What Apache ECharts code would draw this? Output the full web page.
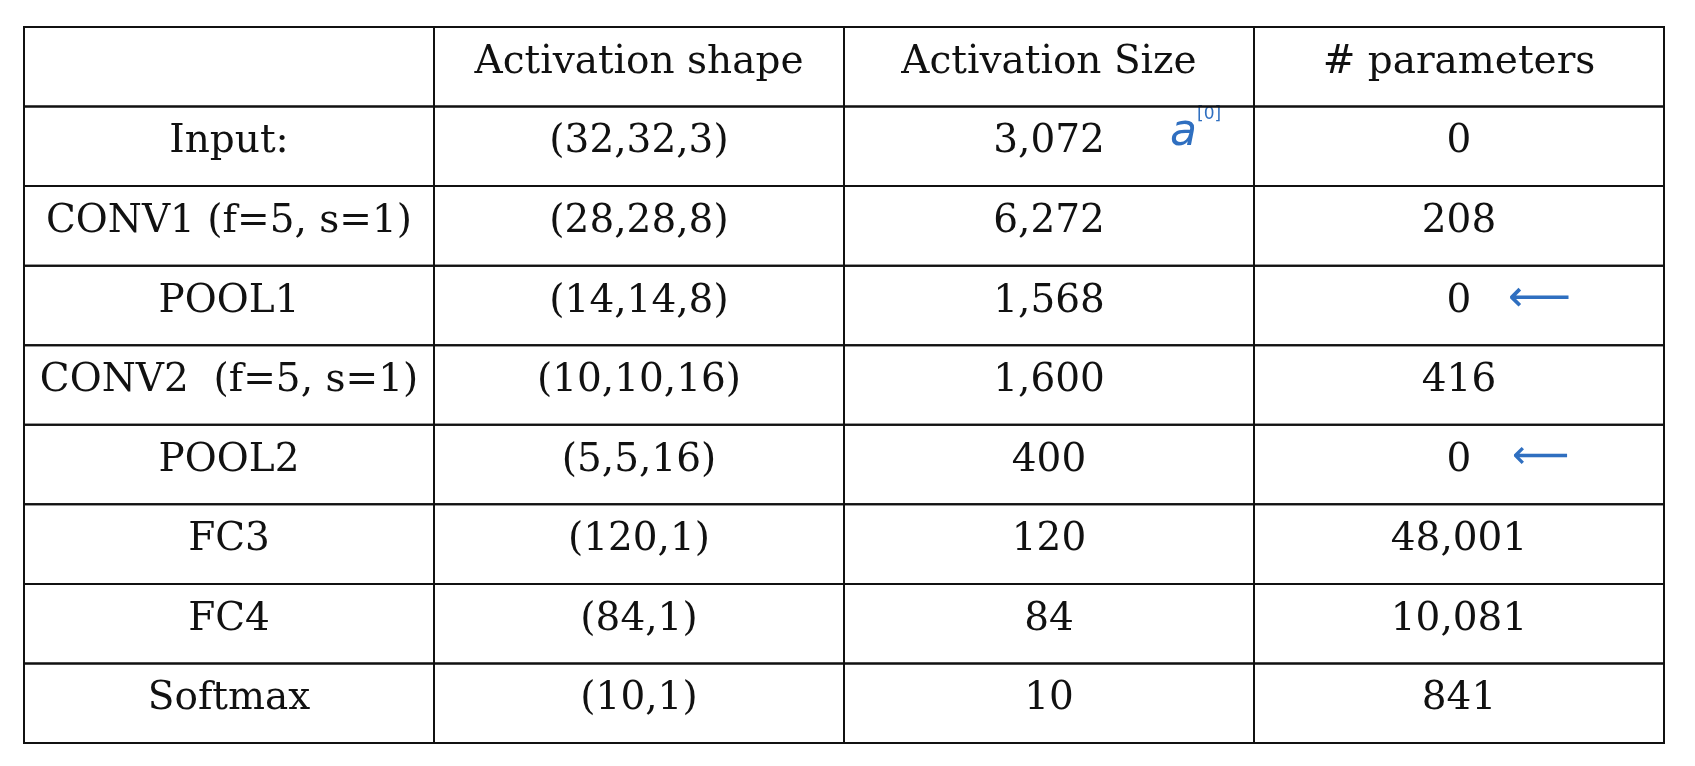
<!DOCTYPE html>
<html>
<head>
<meta charset="utf-8">
<script src="https://cdn.jsdelivr.net/npm/echarts@6/dist/echarts.min.js"></script>
<style>html,body{margin:0;padding:0;background:#fff}#chart{width:1695px;height:766px}</style>
</head>
<body>
<div id="chart"></div>
<script>
var columns = ['', 'Activation shape', 'Activation Size', '# parameters'];
var layers = ['Input:', 'CONV1 (f=5, s=1)', 'POOL1', 'CONV2  (f=5, s=1)', 'POOL2', 'FC3', 'FC4', 'Softmax'];
var shapes = ['(32,32,3)', '(28,28,8)', '(14,14,8)', '(10,10,16)', '(5,5,16)', '(120,1)', '(84,1)', '(10,1)'];
var sizes = ['3,072', '6,272', '1,568', '1,600', '400', '120', '84', '10'];
var params = ['0', '208', '0', '416', '0', '48,001', '10,081', '841'];

var rows = ['head'].concat(layers);
var cells = [];
columns.forEach(function(t, c){ cells.push([c, 0, t]); });
layers.forEach(function(l, i){
	cells.push([0, i+1, l]);
	cells.push([1, i+1, shapes[i]]);
	cells.push([2, i+1, sizes[i]]);
	cells.push([3, i+1, params[i]]);
});

var font = '"DejaVu Serif", "Liberation Serif", serif';
var chart = echarts.init(document.getElementById('chart'));
chart.setOption({
	backgroundColor: '#fff',
	animation: false,
	grid: {left: 24, right: 31, top: 27, bottom: 23},
	xAxis: {type: 'category', data: [0,1,2,3], show: false},
	yAxis: {type: 'category', data: rows.map(function(r, i){ return i; }), inverse: true, show: false},
	series: [{
		type: 'custom',
		data: cells,
		renderItem: function(params, api){
			var p = api.coord([api.value(0), api.value(1)]);
			var s = api.size([1, 1]);
			return {
				type: 'group',
				children: [{
					type: 'rect',
					shape: {x: p[0] - s[0]/2, y: p[1] - s[1]/2, width: s[0], height: s[1]},
					style: {fill: 'none', stroke: '#111', lineWidth: 2}
				}, {
					type: 'text',
					style: {
						x: p[0], y: p[1] - 4, text: cells[params.dataIndex][2],
						align: 'center', verticalAlign: 'middle',
						font: '39px ' + font, fill: '#111'
					}
				}]
			};
		}
	}],
	graphic: [
		{type: 'text', left: 1170, top: 112, style: {text: 'a', font: 'italic 44px "DejaVu Sans", sans-serif', fill: '#2f6fc0'}},
		{type: 'text', left: 1197, top: 106, style: {text: '[0]', font: '17px "DejaVu Sans", sans-serif', fill: '#2f6fc0'}},
		{type: 'text', left: 1508, top: 278, style: {text: '⟵', font: '44px "DejaVu Sans", sans-serif', fill: '#2f6fc0'}},
		{type: 'text', left: 1512, top: 438, style: {text: '⟵', font: '40px "DejaVu Sans", sans-serif', fill: '#2f6fc0'}}
	]
});
</script>
</body>
</html>
